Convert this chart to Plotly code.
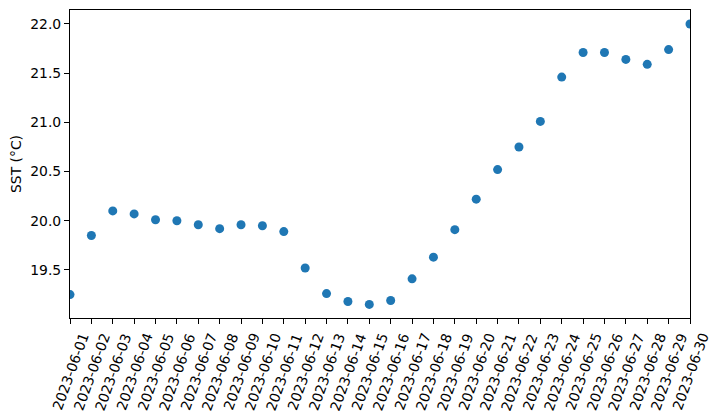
import plotly.graph_objects as go
import pandas as pd

dates = pd.date_range("2023-06-01", "2023-06-30", freq="D").strftime("%Y-%m-%d").tolist()
sst = [19.25, 19.85, 20.10, 20.07, 20.01, 20.00, 19.96, 19.92, 19.96, 19.95,
       19.89, 19.52, 19.26, 19.18, 19.15, 19.19, 19.41, 19.63, 19.91, 20.22,
       20.52, 20.75, 21.01, 21.46, 21.71, 21.71, 21.64, 21.59, 21.74, 22.00]
y_ticks = [19.5, 20.0, 20.5, 21.0, 21.5, 22.0]

fig = go.Figure(go.Scatter(
    x=dates, y=sst, mode="markers",
    marker=dict(color="#1f77b4", size=9, line=dict(width=0)),
    cliponaxis=True, showlegend=False,
))

font = dict(family="DejaVu Sans", size=13.9, color="black")
fig.update_layout(
    width=720, height=418,
    margin=dict(l=70, r=30, t=10, b=100, autoexpand=False),
    paper_bgcolor="white", plot_bgcolor="white",
    font=font,
)
fig.update_xaxes(
    type="date", range=[dates[0], dates[-1]],
    tickmode="array", tickvals=dates, showticklabels=False,
    ticks="outside", ticklen=5, tickwidth=1.1, tickcolor="black",
    showline=True, linecolor="black", linewidth=1.1, mirror=True,
    showgrid=False, zeroline=False, automargin=False,
)
# rotated date labels, centred under each tick (matplotlib-style rotation=70)
for d in dates:
    fig.add_annotation(
        x=d, xref="x", y=0, yref="paper", text=d, textangle=-70,
        xanchor="center", yanchor="top", yshift=-11.5, showarrow=False,
        borderpad=0, font=font,
    )
fig.update_yaxes(
    range=[19.012, 22.142],
    tickmode="array", tickvals=y_ticks, ticktext=[f"{v:.1f}" for v in y_ticks],
    ticks="outside", ticklen=5, tickwidth=1.1, tickcolor="black",
    showline=True, linecolor="black", linewidth=1.1, mirror=True,
    showgrid=False, zeroline=False, automargin=False,
    title=dict(text="SST (°C)", standoff=5, font=font),
)
fig.write_html(
    "out.html",
    config={"displayModeBar": False},
    post_script="document.body.style.margin='0';document.body.style.overflow='hidden';",
)
